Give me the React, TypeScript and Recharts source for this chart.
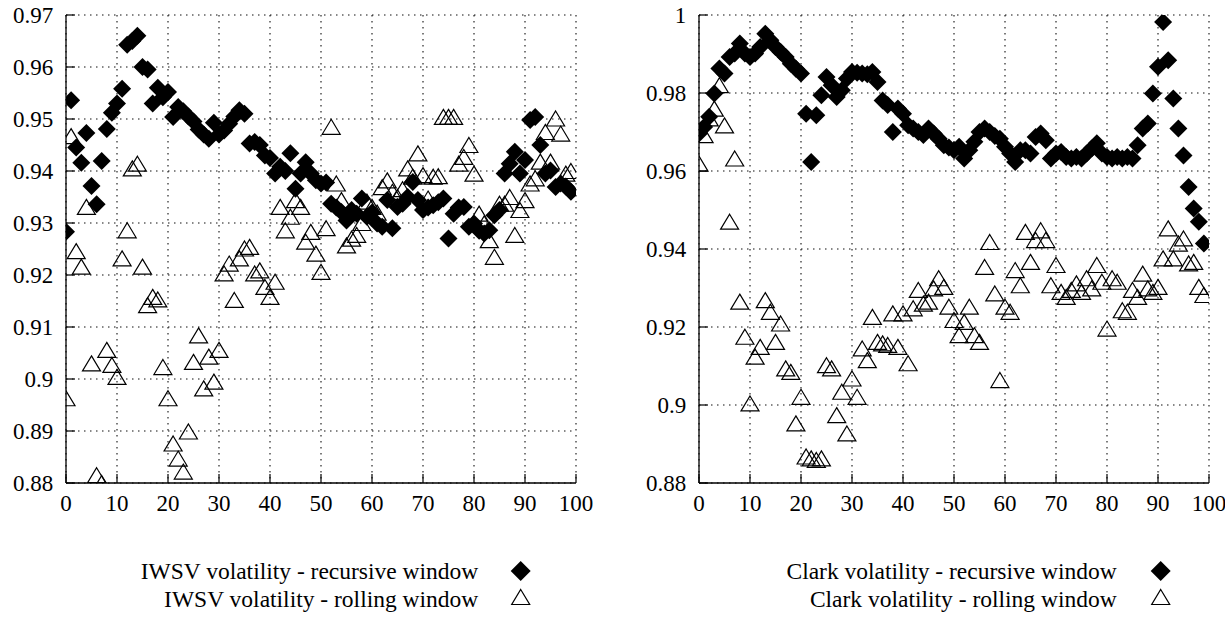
import { ScatterChart, Scatter, XAxis, YAxis, CartesianGrid } from "recharts";

// x = observation index (0..99)
const iwsvRecursive = [
  0.9283, 0.9536, 0.9445, 0.9416, 0.9473, 0.9371, 0.9336, 0.9419, 0.9481, 0.9512,
  0.953, 0.9558, 0.9643, 0.965, 0.966, 0.96, 0.9595, 0.953, 0.956, 0.9542,
  0.9552, 0.9504, 0.9523, 0.9515, 0.9505, 0.9495, 0.948, 0.947, 0.9462, 0.9493,
  0.947, 0.9478, 0.9491, 0.9505, 0.9517, 0.951, 0.9453, 0.9456, 0.945, 0.943,
  0.9425, 0.9395, 0.9408, 0.94, 0.9434, 0.9366, 0.9395, 0.9417, 0.9395, 0.9382,
  0.9376, 0.9378, 0.9337, 0.933, 0.9321, 0.9305, 0.9325, 0.9318, 0.9347, 0.9312,
  0.932, 0.9299, 0.9293, 0.9344, 0.929, 0.9331, 0.9337, 0.935, 0.9379, 0.9344,
  0.9325, 0.933, 0.9334, 0.934, 0.9347, 0.927, 0.9318, 0.933, 0.9331, 0.9293,
  0.9299, 0.9285, 0.928, 0.9286, 0.9315, 0.9325, 0.9395, 0.9414, 0.9437, 0.9395,
  0.9421, 0.9498, 0.9504, 0.945, 0.9395, 0.9401, 0.9369, 0.9376, 0.937, 0.936,
];

const iwsvRolling = [
  0.8963, 0.9467, 0.9246, 0.9216, 0.9331, 0.903, 0.8815, 0.88, 0.9056, 0.9027,
  0.9004, 0.9232, 0.9286, 0.9405, 0.9414, 0.9216, 0.9142, 0.9158, 0.9153, 0.9023,
  0.8963, 0.8876, 0.8847, 0.8822, 0.8899, 0.9033, 0.9084, 0.8982, 0.9043, 0.8995,
  0.9056, 0.9203, 0.9222, 0.9152, 0.9232, 0.9251, 0.9254, 0.9203, 0.9209, 0.9177,
  0.9158, 0.9187, 0.9331, 0.9286, 0.9312, 0.9344, 0.9331, 0.9264, 0.9283, 0.9241,
  0.9206, 0.929, 0.9485, 0.9376, 0.9344, 0.9257, 0.927, 0.9277, 0.93, 0.9341,
  0.9331, 0.932, 0.9369, 0.9382, 0.936, 0.935, 0.9365, 0.9405, 0.9389, 0.9434,
  0.9392, 0.9347, 0.9389, 0.939, 0.9504, 0.9504, 0.9504, 0.9414, 0.9427, 0.945,
  0.9395, 0.9318, 0.9299, 0.9267, 0.9235, 0.9337, 0.9337, 0.935, 0.9277, 0.9325,
  0.9344, 0.9376, 0.9386, 0.9418, 0.9475, 0.9418, 0.9501, 0.9472, 0.9395, 0.94,
];

const clarkRecursive = [
  0.9696, 0.9713, 0.9739, 0.9799, 0.9863, 0.985, 0.9892, 0.9901, 0.9927, 0.9901,
  0.9892, 0.9901, 0.9918, 0.9952, 0.9935, 0.9918, 0.9905, 0.9892, 0.9875, 0.9862,
  0.985, 0.9747, 0.9623, 0.9743, 0.9794, 0.9841, 0.982, 0.979, 0.9807, 0.9837,
  0.9854, 0.9852, 0.985, 0.9848, 0.9854, 0.9828, 0.9781, 0.9769, 0.97, 0.976,
  0.9747, 0.9717, 0.9709, 0.97, 0.9692, 0.9709, 0.9696, 0.9683, 0.9666, 0.966,
  0.9653, 0.9662, 0.9632, 0.9653, 0.9675, 0.97, 0.9709, 0.97, 0.969, 0.9683,
  0.9662, 0.9645, 0.9623, 0.9653, 0.9653, 0.9645, 0.9687, 0.9696, 0.9679, 0.9632,
  0.9645, 0.9649, 0.9636, 0.9632, 0.9636, 0.9632, 0.9645, 0.9658, 0.9671, 0.9645,
  0.9636, 0.9632, 0.9636, 0.9632, 0.9636, 0.9632, 0.9666, 0.9709, 0.9722, 0.9799,
  0.9867, 0.9982, 0.9884, 0.9786, 0.9709, 0.964, 0.9559, 0.9504, 0.947, 0.9414,
];

const clarkRolling = [
  0.9619, 0.9692, 0.9735, 0.976, 0.982, 0.9717, 0.947, 0.9632, 0.9265, 0.9175,
  0.9004, 0.9124, 0.9149, 0.9269, 0.9239, 0.9162, 0.9209, 0.9094, 0.9085, 0.8953,
  0.9021, 0.8868, 0.8863, 0.8859, 0.8863, 0.9102, 0.9094, 0.8974, 0.9034, 0.8927,
  0.9068, 0.9021, 0.9145, 0.9115, 0.9226, 0.9162, 0.9158, 0.9154, 0.9235, 0.9149,
  0.9235, 0.9107, 0.9248, 0.9295, 0.926, 0.9265, 0.9299, 0.9325, 0.9303, 0.9252,
  0.9218, 0.9179, 0.9213, 0.9252, 0.9179, 0.9162, 0.9354, 0.9418, 0.9286, 0.9064,
  0.9252, 0.9239, 0.9346, 0.9307, 0.9444, 0.9367, 0.9423, 0.9448, 0.9423, 0.9307,
  0.9359, 0.929, 0.9277, 0.9295, 0.9312, 0.929, 0.9325, 0.9299, 0.9359, 0.9316,
  0.9196, 0.9325, 0.9316, 0.9243, 0.9239, 0.9295, 0.9277, 0.9337, 0.9299, 0.929,
  0.9303, 0.9376, 0.9453, 0.9376, 0.9414, 0.9427, 0.9363, 0.9367, 0.9303, 0.9282,
];

const xTicks = [0, 10, 20, 30, 40, 50, 60, 70, 80, 90, 100];
const leftYTicks = [0.88, 0.89, 0.9, 0.91, 0.92, 0.93, 0.94, 0.95, 0.96, 0.97];
const rightYTicks = [0.88, 0.9, 0.92, 0.94, 0.96, 0.98, 1];

const FONT = "'Liberation Serif', 'DejaVu Serif', serif";
const FONT_SIZE = 23;
const fmt = (v: number) => String(parseFloat(Number(v).toFixed(2)));

const XTick = (p: any) => (
  <text x={p.x} y={p.y + 27.5} textAnchor="middle" fill="#000" fontSize={FONT_SIZE} fontFamily={FONT}>
    {p.payload.value}
  </text>
);

const YTick = (p: any) => (
  <text x={p.x} y={p.y + 7.8} textAnchor="end" fill="#000" fontSize={FONT_SIZE} fontFamily={FONT}>
    {fmt(p.payload.value)}
  </text>
);

const Diamond = (props: any) => {
  const { cx, cy } = props;
  const r = props.r ?? 9;
  return <path d={`M${cx},${cy - r}L${cx + r},${cy}L${cx},${cy + r}L${cx - r},${cy}Z`} fill="#000" />;
};

const Triangle = (props: any) => {
  const { cx, cy } = props;
  const w = 9;
  const h = 7.5;
  return (
    <path
      d={`M${cx},${cy - h}L${cx + w},${cy + h}L${cx - w},${cy + h}Z`}
      fill="none"
      stroke="#000"
      strokeWidth={1.2}
    />
  );
};

interface PanelProps {
  recursive: number[];
  rolling: number[];
  yDomain: [number, number];
  yTicks: number[];
  width: number;
  yAxisWidth: number;
  marginRight: number;
}

function Panel({ recursive, rolling, yDomain, yTicks, width, yAxisWidth, marginRight }: PanelProps) {
  const recData = recursive.map((y, i) => ({ x: i, y }));
  const rollData = rolling.map((y, i) => ({ x: i, y }));
  const axisLine = { stroke: "#000", strokeWidth: 1.3 };
  const tickLine = { stroke: "#000", strokeWidth: 1.2 };
  return (
    <ScatterChart width={width} height={617} margin={{ top: 15, right: marginRight, bottom: 104, left: 0 }}>
      <CartesianGrid stroke="#111" strokeWidth={1.1} strokeDasharray="1.5 4.5" />
      <XAxis
        type="number"
        dataKey="x"
        domain={[0, 100]}
        ticks={xTicks}
        interval={0}
        height={30}
        tickSize={-9}
        tickMargin={9}
        axisLine={axisLine}
        tickLine={tickLine}
        tick={XTick}
        allowDataOverflow
      />
      <XAxis
        xAxisId="top"
        orientation="top"
        type="number"
        domain={[0, 100]}
        ticks={xTicks}
        interval={0}
        height={0}
        tickSize={-9}
        tickFormatter={() => ""}
        axisLine={axisLine}
        tickLine={tickLine}
        allowDataOverflow
      />
      <YAxis
        type="number"
        dataKey="y"
        domain={yDomain}
        ticks={yTicks}
        interval={0}
        width={yAxisWidth}
        tickSize={-9}
        tickMargin={21.7}
        axisLine={axisLine}
        tickLine={tickLine}
        tick={YTick}
        allowDataOverflow
      />
      <YAxis
        yAxisId="right"
        orientation="right"
        type="number"
        domain={yDomain}
        ticks={yTicks}
        interval={0}
        width={0}
        tickSize={-9}
        tickFormatter={() => ""}
        axisLine={axisLine}
        tickLine={tickLine}
        allowDataOverflow
      />
      <Scatter data={recData} shape={Diamond} isAnimationActive={false} />
      <Scatter data={rollData} shape={Triangle} isAnimationActive={false} />
    </ScatterChart>
  );
}

const legendRows = [
  { label: "IWSV volatility - recursive window", right: 478.3, markerX: 520.7, y: 571, kind: "d" },
  { label: "IWSV volatility - rolling window", right: 478.3, markerX: 520.7, y: 599, kind: "t" },
  { label: "Clark volatility - recursive window", right: 1116.7, markerX: 1160.7, y: 571, kind: "d" },
  { label: "Clark volatility - rolling window", right: 1116.7, markerX: 1160.7, y: 599, kind: "t" },
];

export default function App() {
  return (
    <div style={{ position: "absolute", left: 0, top: 0, width: 1225, height: 617, background: "#fff" }}>
      <div style={{ position: "absolute", left: 0, top: 0 }}>
        <Panel
          recursive={iwsvRecursive}
          rolling={iwsvRolling}
          yDomain={[0.88, 0.97]}
          yTicks={leftYTicks}
          width={612}
          yAxisWidth={66}
          marginRight={36}
        />
      </div>
      <div style={{ position: "absolute", left: 612, top: 0 }}>
        <Panel
          recursive={clarkRecursive}
          rolling={clarkRolling}
          yDomain={[0.88, 1]}
          yTicks={rightYTicks}
          width={613}
          yAxisWidth={87}
          marginRight={16}
        />
      </div>
      <svg style={{ position: "absolute", left: 0, top: 0 }} width={1225} height={617}>
        {legendRows.map((r) => (
          <g key={r.label}>
            <text x={r.right} y={r.y + 7.5} textAnchor="end" fill="#000" fontSize={23.5} fontFamily={FONT}>
              {r.label}
            </text>
            {r.kind === "d" ? <Diamond cx={r.markerX} cy={r.y} r={10} /> : <Triangle cx={r.markerX} cy={r.y - 2} />}
          </g>
        ))}
      </svg>
    </div>
  );
}
